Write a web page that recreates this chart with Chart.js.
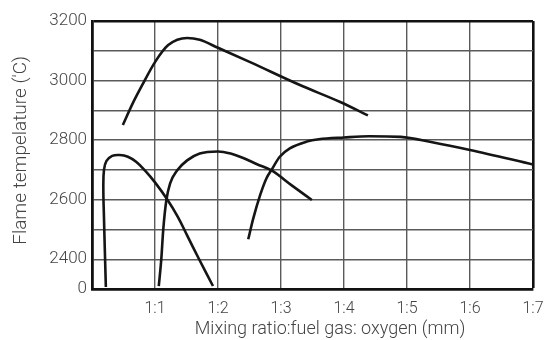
<!DOCTYPE html>
<html>
<head>
<meta charset="utf-8">
<script src="https://cdn.jsdelivr.net/npm/chart.js@4.4.0/dist/chart.umd.min.js"></script>
<style>
  html, body { margin: 0; padding: 0; background: #fff; }
  #wrap { width: 544px; height: 340px; }
</style>
</head>
<body>
<div id="wrap"><canvas id="canvas" width="544" height="340"></canvas></div>
<script>
// x tick labels (mixing ratio), index = axis value
var ratioLabels = ['', '1:1', '1:2', '1:3', '1:4', '1:5', '1:6', '1:7'];
// y tick labels, axis is broken: the bottom "0" sits one step below 2400
var tempTicks = [2300, 2400, 2600, 2800, 3000, 3200];

// curve 1 (top one)
var c1Ratio = [0.49, 0.65, 0.81, 1.0, 1.21, 1.51, 1.71, 2.0, 2.51, 3.3, 3.94, 4.38];
var c1Temp  = [2851, 2925, 2990, 3062, 3119, 3143, 3137, 3110, 3062, 2985, 2928, 2883];
// curve 2 (leftmost, goes back on itself)
var c2Ratio = [0.22, 0.205, 0.19, 0.18, 0.19, 0.23, 0.32, 0.44, 0.57, 0.7, 0.85, 1.0, 1.19, 1.36, 1.51, 1.7, 1.92];
var c2Temp  = [2307, 2420, 2540, 2640, 2700, 2730, 2747, 2750, 2744, 2727, 2696, 2658, 2602, 2543, 2480, 2400, 2310];
// curve 3
var c3Ratio = [1.06, 1.1, 1.13, 1.18, 1.24, 1.35, 1.51, 1.71, 2.0, 2.2, 2.4, 2.62, 2.85, 3.17, 3.49];
var c3Temp  = [2310, 2400, 2497, 2598, 2655, 2698, 2732, 2755, 2762, 2755, 2740, 2719, 2698, 2648, 2599];
// curve 4 (right one)
var c4Ratio = [2.48, 2.56, 2.67, 2.77, 2.85, 2.98, 3.14, 3.41, 3.6, 4.0, 4.4, 4.9, 5.4, 6.0, 7.0];
var c4Temp  = [2467, 2537, 2616, 2672, 2700, 2744, 2772, 2795, 2803, 2809, 2813, 2811, 2793, 2767, 2718];

function pts(xs, ys) {
  return xs.map(function(x, i) { return {x: x, y: ys[i]}; });
}
function curve(xs, ys, mono) {
  return {
    data: pts(xs, ys),
    showLine: true,
    borderColor: '#151515',
    borderWidth: 2.6,
    pointRadius: 0,
    tension: 0.4,
    cubicInterpolationMode: mono ? 'monotone' : 'default',
    fill: false
  };
}

Chart.defaults.font.family = 'Roboto';
Chart.defaults.font.weight = '300';
Chart.defaults.color = '#444';

var config = {
  type: 'scatter',
  data: {
    datasets: [
      curve(c1Ratio, c1Temp, true),
      curve(c2Ratio, c2Temp, false),
      curve(c3Ratio, c3Temp, true),
      curve(c4Ratio, c4Temp, true)
    ]
  },
  options: {
    responsive: false,
    animation: false,
    layout: { padding: { top: 21, right: 11, left: 4, bottom: 0 } },
    plugins: { legend: { display: false }, tooltip: { enabled: false } },
    scales: {
      x: {
        type: 'linear',
        min: 0,
        max: 7,
        ticks: {
          stepSize: 1,
          padding: 10,
          font: { size: 16 },
          maxRotation: 0,
          callback: function(v) { return ratioLabels[v]; }
        },
        grid: {
          color: function(ctx) { return ctx.tick && ctx.tick.value === 7 ? '#111' : '#5a5a5a'; },
          lineWidth: function(ctx) { return ctx.tick && ctx.tick.value === 7 ? 2.6 : 1.4; },
          drawTicks: false
        },
        border: { color: '#111', width: 2.8 },
        title: {
          display: true,
          text: '        Mixing ratio:fuel gas: oxygen (mm)',
          font: { size: 18 },
          padding: { top: 0, bottom: 0 }
        },
        afterFit: function(s) { s.height = 51; s.paddingLeft = 0; s.paddingRight = 0; }
      },
      y: {
        type: 'linear',
        min: 2300,
        max: 3200,
        ticks: {
          stepSize: 100,
          padding: 5,
          font: { size: 17 },
          callback: function(v) {
            if (v === tempTicks[0]) return '0';
            return tempTicks.indexOf(v) >= 0 ? String(v) : '';
          }
        },
        grid: {
          color: function(ctx) { return ctx.tick && ctx.tick.value === 3200 ? '#111' : '#5a5a5a'; },
          lineWidth: function(ctx) { return ctx.tick && ctx.tick.value === 3200 ? 2.6 : 1.4; },
          drawTicks: false
        },
        border: { color: '#111', width: 2.8 },
        title: {
          display: true,
          text: "  Flame tempelature ('C)",
          font: { size: 19 },
          padding: { top: 6, bottom: 4 }
        },
        afterFit: function(s) { s.width = 88; s.paddingTop = 0; s.paddingBottom = 0; }
      }
    }
  }
};

window.myChart = new Chart(document.getElementById('canvas'), config);
</script>
</body>
</html>
